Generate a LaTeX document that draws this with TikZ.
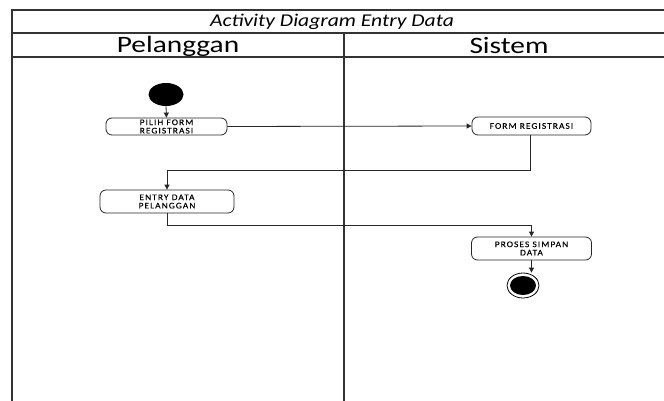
\documentclass[tikz,border=0pt]{standalone}
\usepackage{fontspec}
\setmainfont{Carlito}
\newfontfamily\widefont{Carlito}[FakeStretch=1.2]
\newfontfamily\headfont{Carlito}[FakeStretch=1.25]
\newfontfamily\boxfont{Carlito}[FakeStretch=1.1,LetterSpace=12,FakeBold=0.05]
\usetikzlibrary{arrows.meta,shapes.geometric}
\begin{document}
\begin{tikzpicture}[x=1pt,y=-1pt,
  frame/.style={draw=black!80,line width=1.3pt},
  act/.style={draw=black!85,line width=0.8pt,rounded corners=6pt,align=center,
    inner sep=0pt,font=\boxfont\fontsize{8.6}{8.4}\selectfont},
  flow/.style={draw=black!85,line width=0.8pt,-{Triangle[length=5pt,width=5pt]}},
  link/.style={draw=black!85,line width=0.8pt}]
\useasboundingbox (0,0) rectangle (664,401);
\fill[white] (0,0) rectangle (664,401);

% swimlane frame
\draw[frame] (12,401) -- (12,10) -- (670,10);
\draw[frame] (12,33) -- (670,33);
\draw[frame] (12,57) -- (670,57);
\draw[frame] (344,33) -- (344,401);

\node (title) at (332,21.5) {\widefont\fontsize{18}{21}\selectfont\itshape Activity Diagram Entry Data};
\node (laneA) at (178,46) {\headfont\fontsize{23.5}{27}\selectfont Pelanggan};
\node (laneB) at (509,46) {\headfont\fontsize{23.5}{27}\selectfont Sistem};

% activity nodes
\node[ellipse,fill=black,minimum width=35pt,minimum height=23pt,inner sep=0pt] (start) at (166,94.5) {};
\node[act,minimum width=121pt,minimum height=17pt] (pilih) at (166.5,126.5) {PILIH FORM\\REGISTRASI};
\node[act,minimum width=119pt,minimum height=18pt] (form) at (531.5,126) {FORM REGISTRASI};
\node[act,minimum width=134pt,minimum height=23pt] (entry) at (167,201.5) {ENTRY DATA\\PELANGGAN};
\node[act,minimum width=120pt,minimum height=23pt] (proses) at (531.5,248.5) {PROSES SIMPAN\\DATA};
\node[ellipse,draw=black,line width=0.8pt,minimum width=32pt,minimum height=25pt,inner sep=0pt] (final) at (523,285.5) {};
\node[ellipse,fill=black,minimum width=26pt,minimum height=19pt,inner sep=0pt] at (final.center) {};

% control flow
\draw[flow] (start.south) -- (pilih.north);
\draw[flow] (pilih.east) -- (form.west);
\coordinate (bendA) at (530,170);
\draw[link] (form.south -| bendA) -- (bendA) -- (bendA -| entry.north);
\draw[flow] (bendA -| entry.north) -- (entry.north);
\coordinate (bendB) at (167,225);
\draw[link] (entry.south) -- (bendB) -- (bendB -| proses.north);
\draw[flow] (bendB -| proses.north) -- (proses.north);
\draw[flow] (proses.south) -- (proses.south |- final.north);
\end{tikzpicture}
\end{document}
